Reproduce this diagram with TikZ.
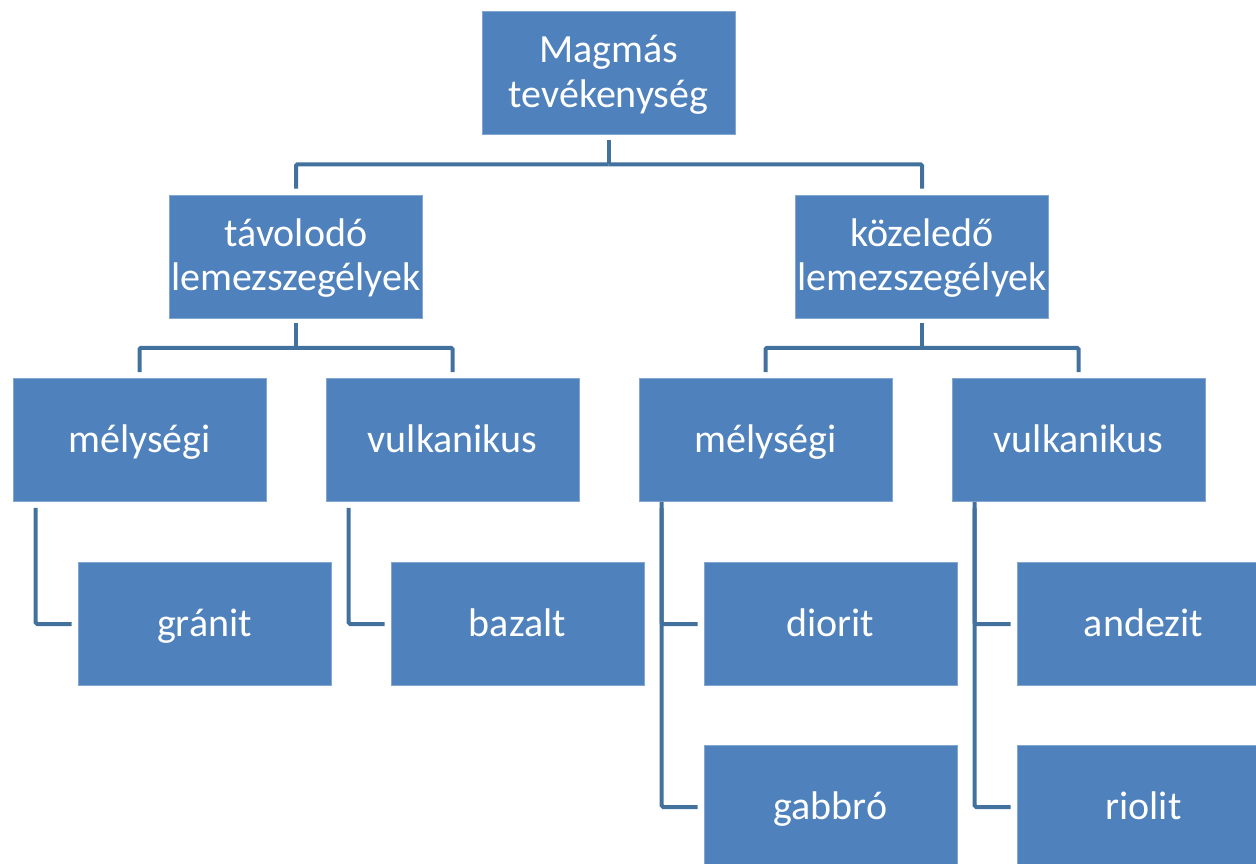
\documentclass[tikz,border=0pt]{standalone}
\usepackage{fontspec}
\setmainfont{Carlito}
\usetikzlibrary{calc}
\definecolor{boxblue}{HTML}{4F81BD}
\definecolor{lineblue}{HTML}{41719C}
\tikzset{
  box/.style={fill=boxblue, draw=boxblue!70!white, line width=0.6pt, minimum width=253pt, minimum height=123pt,
    inner sep=0pt, text=white, align=center, text height=28pt, text depth=4pt,
    font=\fontsize{40}{44.5}\selectfont},
  twoline/.style={box, text height=72.5pt},
  conn/.style={draw=lineblue, line width=4pt, rounded corners=1.5pt}
}
\begin{document}
\begin{tikzpicture}[x=1pt,y=-1pt]
\useasboundingbox (0,0) rectangle (1256,864);
\node[twoline] (top) at (608.5,73) {Magmás\\tevékenység};
\node[twoline] (tav) at (296,256.5) {távolodó\\lemezszegélyek};
\node[twoline] (koz) at (922,256.5) {közeledő\\lemezszegélyek};
\node[box] (m1) at (139.5,440) {mélységi};
\node[box] (v1) at (452.5,440) {vulkanikus};
\node[box] (m2) at (765.5,440) {mélységi};
\node[box] (v2) at (1078.5,440) {vulkanikus};
\node[box] (granit) at (204.5,624) {gránit};
\node[box] (bazalt) at (517.5,624) {bazalt};
\node[box] (diorit) at (830.5,624) {diorit};
\node[box] (andezit) at (1143.5,624) {andezit};
\node[box] (gabbro) at (830.5,807) {gabbró};
\node[box] (riolit) at (1143.5,807) {riolit};
% level 1
\coordinate (j0) at ($(top.south)+(0,29.5)$);
\draw[conn] ($(top.south)+(0,5)$) -- (j0);
\draw[conn] (j0) -| ($(tav.north)+(0,-6)$);
\draw[conn] (j0) -| ($(koz.north)+(0,-6)$);
% level 2
\coordinate (j1) at ($(tav.south)+(0,29.5)$);
\draw[conn] ($(tav.south)+(0,5)$) -- (j1);
\draw[conn] (j1) -| ($(m1.north)+(0,-6)$);
\draw[conn] (j1) -| ($(v1.north)+(0,-6)$);
\coordinate (j2) at ($(koz.south)+(0,29.5)$);
\draw[conn] ($(koz.south)+(0,5)$) -- (j2);
\draw[conn] (j2) -| ($(m2.north)+(0,-6)$);
\draw[conn] (j2) -| ($(v2.north)+(0,-6)$);
% level 3
\draw[conn] ($(m1.south west)+(23,6)$) |- ($(granit.west)+(-6,0)$);
\draw[conn] ($(v1.south west)+(23,6)$) |- ($(bazalt.west)+(-6,0)$);
\draw[conn] ($(m2.south west)+(23,6)$) |- ($(gabbro.west)+(-6,0)$);
\draw[conn] ($(m2.south west)+(23,0)$) |- ($(diorit.west)+(-6,0)$);
\draw[conn] ($(v2.south west)+(23,6)$) |- ($(riolit.west)+(-6,0)$);
\draw[conn] ($(v2.south west)+(23,0)$) |- ($(andezit.west)+(-6,0)$);
\end{tikzpicture}
\end{document}
